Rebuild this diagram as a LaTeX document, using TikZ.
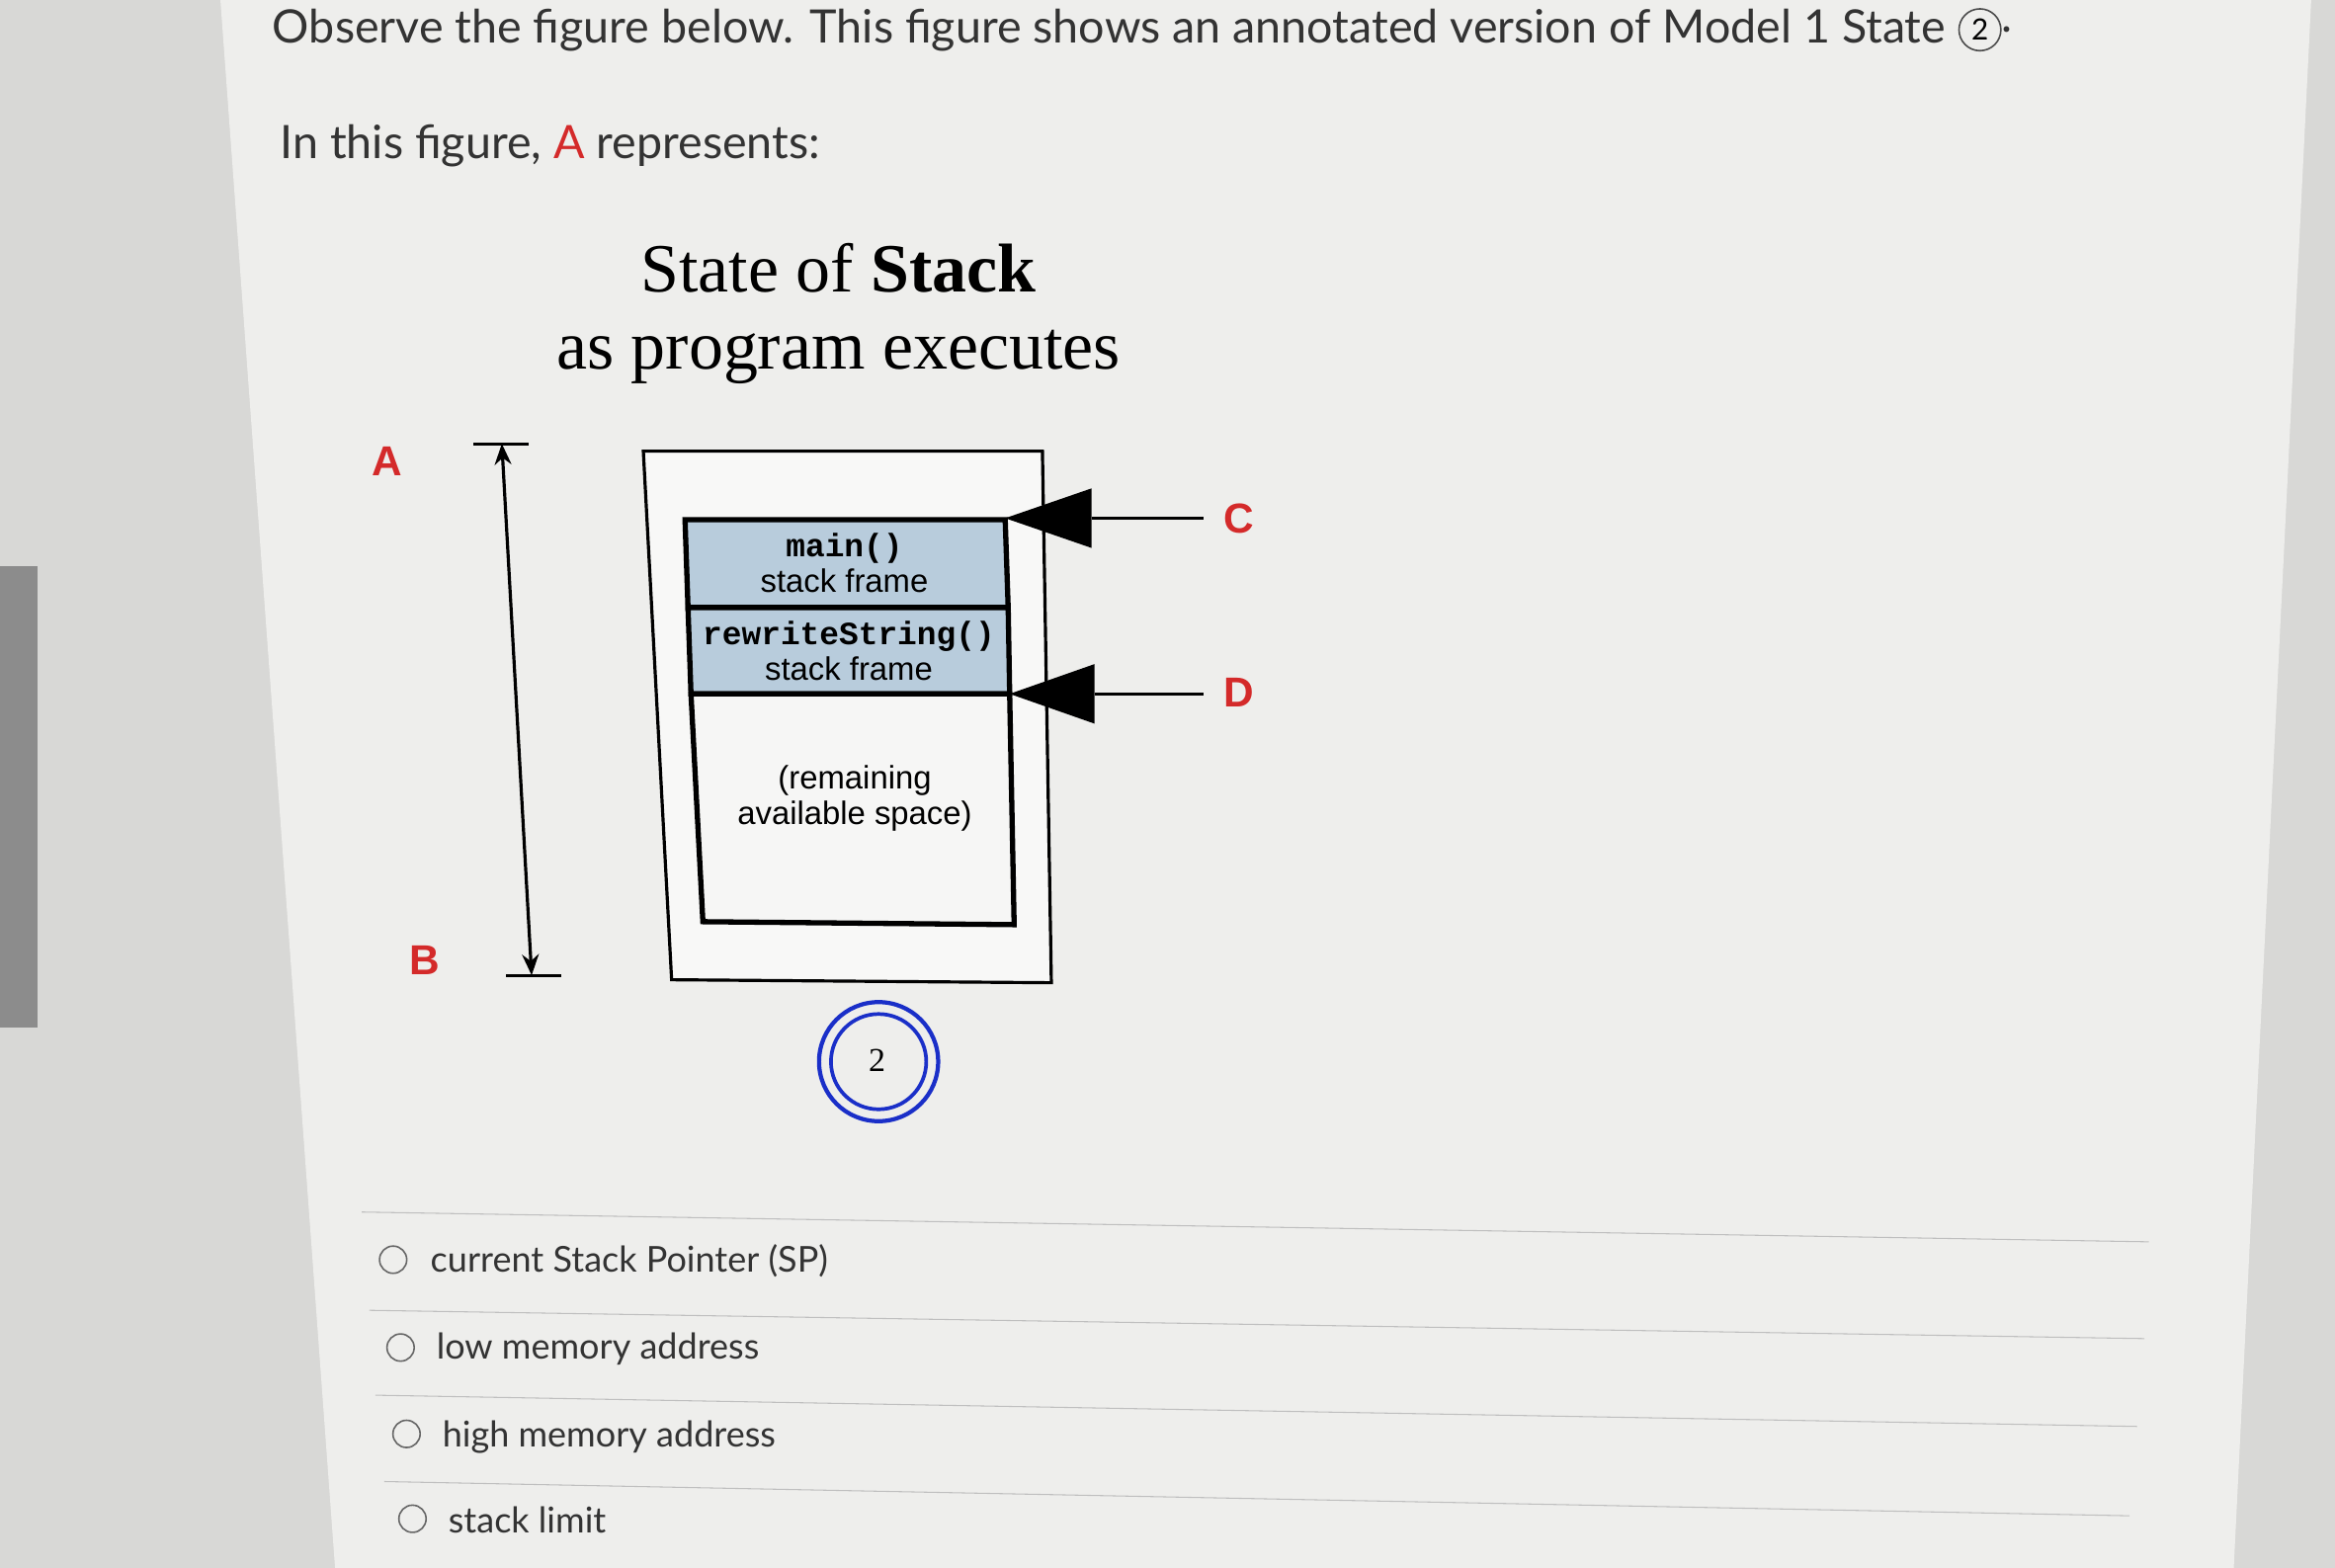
\documentclass[tikz,border=0pt]{standalone}
\usepackage{fontspec}
\usetikzlibrary{arrows.meta}
\setmainfont{Lato}
\newfontfamily\serifa{Liberation Serif}
\newfontfamily\sansb{Liberation Sans}
\newfontfamily\monoa{Liberation Mono}
\definecolor{pagebg}{HTML}{EEEEEC}
\definecolor{outbg}{HTML}{D8D8D6}
\definecolor{frameblue}{HTML}{B8CCDC}
\definecolor{lbl}{HTML}{D42A2A}
\definecolor{ringblue}{HTML}{1A2FC8}
\tikzset{
  every node/.style={inner sep=0pt},
  para/.style={font=\fontsize{44}{46}\selectfont, anchor=west, text=black!80},
  letter/.style={font=\sansb\bfseries\fontsize{40}{40}\selectfont, text=lbl},
  frametxt/.style={font=\sansb\fontsize{31}{34}\selectfont, align=center},
  opt/.style={font=\fontsize{34}{36}\selectfont, anchor=west, text=black!80},
  radio/.style={circle, draw=black!60, line width=1.5pt, minimum size=26pt},
  sep/.style={draw=black!25, line width=1pt},
}
\begin{document}
\begin{tikzpicture}[x=0.05cm,y=-0.05cm]
\useasboundingbox (0,0) rectangle (1568,1053);
\fill[outbg] (0,0) rectangle (1568,1053);
\fill[black!45] (0,380) rectangle (25,690);
\fill[pagebg] (148,0) -- (1552,0) -- (1500,1053) -- (225,1053) -- cycle;
% header text
\node[para] (q1) at (183,20) {Observe the figure below. This figure shows an annotated version of Model 1 State};
\node[circle, draw=black!70, line width=1.5pt, minimum size=40pt, font=\fontsize{28}{28}\selectfont, anchor=west] (q1c) at ([xshift=12pt]q1.east) {2};
\node[font=\fontsize{44}{46}\selectfont, anchor=west, text=black!80] (q1d) at (q1c.east) {.};
\node[para] (q2) at (188,98) {In this figure, \textcolor{lbl}{A} represents:};
% title
\node[font=\serifa\fontsize{66}{68}\selectfont] (t1) at (563,180) {State of \textbf{Stack}};
\node[font=\serifa\fontsize{66}{68}\selectfont] (t2) at (563,240) {as program executes};
% A B arrow
\node[letter] (A) at (260,310) {A};
\node[letter] (B) at (285,645) {B};
\coordinate (top) at (337,298);
\coordinate (bot) at (357,655);
\draw[line width=3pt] (318,298) -- (355,298);
\draw[line width=3pt] (340,655) -- (377,655);
\draw[line width=3pt,{Stealth[length=20pt,width=16pt]}-{Stealth[length=20pt,width=16pt]}] (top) -- (bot);
% outer box
\draw[line width=3pt, fill=white!60!pagebg] (432,303) -- (700,303) -- (706,660) -- (451,658) -- cycle;
% frames
\draw[line width=5pt, fill=frameblue] (460,349) -- (675,349) -- (677,408) -- (462,408) -- cycle;
\draw[line width=5pt, fill=frameblue] (462,408) -- (677,408) -- (678,466) -- (464,466) -- cycle;
\draw[line width=5pt, fill=white!50!pagebg] (464,466) -- (678,466) -- (681,621) -- (472,619) -- cycle;
\node[frametxt] (f1) at (567,378) {{\monoa\bfseries main()}\\stack frame};
\node[frametxt] (f2) at (570,437) {{\monoa\bfseries rewriteString()}\\stack frame};
\node[frametxt] (f3) at (574,536) {(remaining\\available space)};
% C D pointers
\fill (675,348) -- (733,328) -- (733,368) -- cycle;
\fill (678,466) -- (735,446) -- (735,486) -- cycle;
\draw[line width=2.5pt] (733,348) -- (808,348);
\draw[line width=2.5pt] (735,466) -- (808,466);
\node[letter] (C) at (832,348) {C};
\node[letter] (D) at (832,465) {D};
% ring
\draw[ringblue, line width=4pt] (590,713) circle (40);
\draw[ringblue, line width=3.5pt] (590,713) circle (32);
\node[font=\serifa\fontsize{32}{32}\selectfont] (two) at (589,712) {2};
% options
\draw[sep] (243,814) -- (1443,834);
\draw[sep] (248,880) -- (1440,899);
\draw[sep] (252,937) -- (1435,958);
\draw[sep] (258,995) -- (1430,1018);
\node[radio] (r1) at (264,846) {};
\node[radio] (r2) at (269,905) {};
\node[radio] (r3) at (273,963) {};
\node[radio] (r4) at (277,1020) {};
\node[opt] (o1) at (289,847) {current Stack Pointer (SP)};
\node[opt] (o2) at (293,906) {low memory address};
\node[opt] (o3) at (297,965) {high memory address};
\node[opt] (o4) at (301,1021) {stack limit};
\end{tikzpicture}
\end{document}
